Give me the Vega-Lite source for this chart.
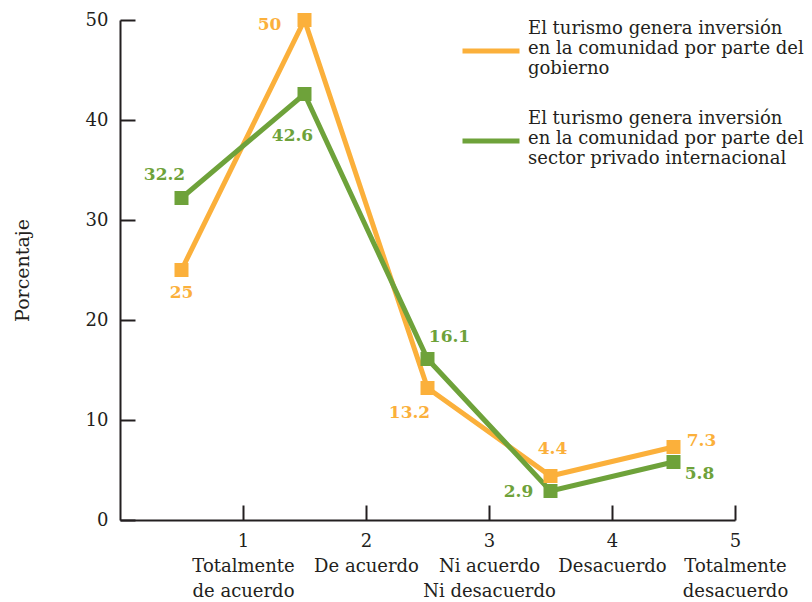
{
  "$schema": "https://vega.github.io/schema/vega-lite/v6.json",
  "width": 615,
  "height": 500,
  "autosize": "none",
  "padding": {"left": 120, "top": 20, "right": 77, "bottom": 82},
  "background": "white",
  "config": {
    "view": {"stroke": null},
    "font": "DejaVu Serif",
    "axis": {"grid": false, "domainColor": "#231f20", "tickColor": "#231f20", "domainWidth": 2, "tickWidth": 2, "labelColor": "#231f20", "labelFont": "DejaVu Serif", "labelFontSize": 18, "titleFont": "DejaVu Serif", "titleFontSize": 19, "titleFontWeight": "normal", "titleColor": "#231f20"}
  },
  "data": {
    "values": [
      {"x": 0.5, "s": "g", "v": 25},
      {"x": 1.5, "s": "g", "v": 50},
      {"x": 2.5, "s": "g", "v": 13.2},
      {"x": 3.5, "s": "g", "v": 4.4},
      {"x": 4.5, "s": "g", "v": 7.3},
      {"x": 0.5, "s": "p", "v": 32.2},
      {"x": 1.5, "s": "p", "v": 42.6},
      {"x": 2.5, "s": "p", "v": 16.1},
      {"x": 3.5, "s": "p", "v": 2.9},
      {"x": 4.5, "s": "p", "v": 5.8}
    ]
  },
  "encoding": {
    "x": {"field": "x", "type": "quantitative", "scale": {"domain": [0, 5], "nice": false, "zero": true},
      "axis": {"title": null, "values": [1, 2, 3, 4, 5], "tickSize": -15, "labelPadding": 27, "labelOverlap": false, "labelFlush": false, "labelBound": false, "labelLineHeight": 25, "labelBaseline": "top",
        "labelExpr": "datum.value == 1 ? ['1', 'Totalmente', 'de acuerdo'] : datum.value == 2 ? ['2', 'De acuerdo'] : datum.value == 3 ? ['3', 'Ni acuerdo', 'Ni desacuerdo'] : datum.value == 4 ? ['4', 'Desacuerdo'] : ['5', 'Totalmente', 'desacuerdo']"}},
    "y": {"field": "v", "type": "quantitative", "scale": {"domain": [0, 50], "nice": false},
      "axis": {"title": "Porcentaje", "values": [0, 10, 20, 30, 40, 50], "tickSize": -15, "labelPadding": 27, "titlePadding": 53}}
  },
  "layer": [
    {
      "mark": {"type": "line", "strokeWidth": 5},
      "encoding": {
        "color": {"field": "s", "type": "nominal",
          "scale": {"domain": ["g", "p"], "range": ["#fbb03b", "#6ea23a"]},
          "legend": {"title": null, "orient": "none", "legendX": 340, "legendY": 0,
            "symbolType": "stroke", "symbolSize": 3249, "symbolStrokeWidth": 5,
            "labelFont": "DejaVu Serif", "labelFontSize": 18, "labelColor": "#231f20", "labelLimit": 400, "labelLineHeight": 22, "labelOffset": 6, "rowPadding": 32,
            "encode": {"labels": {"update": {"dy": {"value": -22}}}},
            "labelExpr": "datum.value == 'g' ? ['El turismo genera inversión', 'en la comunidad por parte del', 'gobierno'] : ['El turismo genera inversión', 'en la comunidad por parte del', 'sector privado internacional']"}}
      }
    },
    {
      "mark": {"type": "point", "shape": "square", "filled": true, "opacity": 1, "size": 196},
      "encoding": {"color": {"field": "s", "type": "nominal", "legend": null}}
    },
    {"transform": [{"filter": "datum.s == 'g' && datum.x == 0.5"}], "mark": {"type": "text", "fontWeight": "bold", "fontSize": 17, "color": "#fbb03b", "dy": 23}, "encoding": {"text": {"field": "v"}}},
    {"transform": [{"filter": "datum.s == 'g' && datum.x == 1.5"}], "mark": {"type": "text", "fontWeight": "bold", "fontSize": 17, "color": "#fbb03b", "dx": -35, "dy": 5}, "encoding": {"text": {"field": "v"}}},
    {"transform": [{"filter": "datum.s == 'g' && datum.x == 2.5"}], "mark": {"type": "text", "fontWeight": "bold", "fontSize": 17, "color": "#fbb03b", "dx": -18, "dy": 25}, "encoding": {"text": {"field": "v"}}},
    {"transform": [{"filter": "datum.s == 'g' && datum.x == 3.5"}], "mark": {"type": "text", "fontWeight": "bold", "fontSize": 17, "color": "#fbb03b", "dx": 2, "dy": -27}, "encoding": {"text": {"field": "v"}}},
    {"transform": [{"filter": "datum.s == 'g' && datum.x == 4.5"}], "mark": {"type": "text", "fontWeight": "bold", "fontSize": 17, "color": "#fbb03b", "dx": 28, "dy": -6}, "encoding": {"text": {"field": "v"}}},
    {"transform": [{"filter": "datum.s == 'p' && datum.x == 0.5"}], "mark": {"type": "text", "fontWeight": "bold", "fontSize": 17, "color": "#6ea23a", "dx": -17, "dy": -23}, "encoding": {"text": {"field": "v"}}},
    {"transform": [{"filter": "datum.s == 'p' && datum.x == 1.5"}], "mark": {"type": "text", "fontWeight": "bold", "fontSize": 17, "color": "#6ea23a", "dx": -12, "dy": 42}, "encoding": {"text": {"field": "v"}}},
    {"transform": [{"filter": "datum.s == 'p' && datum.x == 2.5"}], "mark": {"type": "text", "fontWeight": "bold", "fontSize": 17, "color": "#6ea23a", "dx": 22, "dy": -22}, "encoding": {"text": {"field": "v"}}},
    {"transform": [{"filter": "datum.s == 'p' && datum.x == 3.5"}], "mark": {"type": "text", "fontWeight": "bold", "fontSize": 17, "color": "#6ea23a", "dx": -32, "dy": 1}, "encoding": {"text": {"field": "v"}}},
    {"transform": [{"filter": "datum.s == 'p' && datum.x == 4.5"}], "mark": {"type": "text", "fontWeight": "bold", "fontSize": 17, "color": "#6ea23a", "dx": 26, "dy": 12}, "encoding": {"text": {"field": "v"}}}
  ]
}
